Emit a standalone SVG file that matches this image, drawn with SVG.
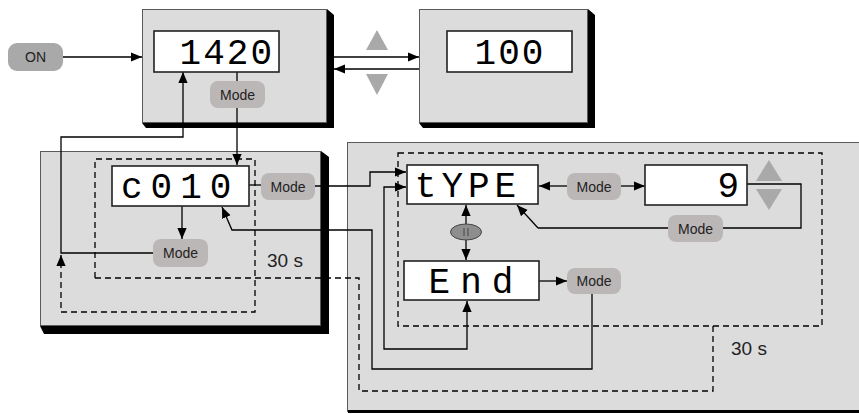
<svg xmlns="http://www.w3.org/2000/svg" width="859" height="414" viewBox="0 0 859 414">
<style>
.panel{fill:#dcdcdc;stroke:#5a5a5a;stroke-width:1}
.shadow{fill:#000}
.disp{fill:#fff;stroke:#222;stroke-width:1.6}
.seg{font-family:"Liberation Mono","Courier New",monospace;font-size:36px;fill:#000}
.pill{fill:#bcb7b7}
.pilltxt{font-family:"Liberation Sans",Arial,sans-serif;font-size:14px;fill:#222;text-anchor:middle}
.ln{fill:none;stroke:#000;stroke-width:1.3}
.dash{fill:none;stroke:#000;stroke-width:1.3;stroke-dasharray:6,4}
.tri{fill:#a9a9a9}
.lbl{font-family:"Liberation Sans",Arial,sans-serif;font-size:19px;fill:#222}
</style>
<defs>
<marker id="ah" viewBox="0 0 10 10" refX="10" refY="5" markerWidth="11" markerHeight="11" markerUnits="userSpaceOnUse" orient="auto-start-reverse">
<path d="M0,0.8 L10,5 L0,9.2 z" fill="#000"/>
</marker>
</defs>

<g id="panel-right-lower">
<rect class="panel" x="347.5" y="142.5" width="520" height="269"/>
<rect class="shadow" x="348" y="410" width="520" height="3"/>
</g>
<g id="panel-left-lower">
<polygon class="shadow" points="321,151 329,157 329,334 44,334 40,326 321,326"/>
<rect class="panel" x="40.5" y="151.5" width="280" height="174"/>
</g>
<g id="panel-1420">
<polygon class="shadow" points="327,9 334,15 334,128 146,128 142,123 327,123"/>
<rect class="panel" x="142.5" y="9.5" width="184" height="113"/>
</g>
<g id="panel-100">
<polygon class="shadow" points="588,9 595,15 595,128 423,128 419,123 588,123"/>
<rect class="panel" x="419.5" y="9.5" width="168" height="113"/>
</g>

<g id="connectors">
<path class="ln" d="M63,57 H142" marker-end="url(#ah)"/>
<path class="ln" d="M237,72 V81"/>
<path class="ln" d="M237,108 V165" marker-end="url(#ah)"/>
<path class="ln" d="M153,253 H61 V137 H183 V72" marker-end="url(#ah)"/>
<path class="ln" d="M182,206 V239" marker-end="url(#ah)"/>
<path class="ln" d="M334,57 H419" marker-end="url(#ah)"/>
<path class="ln" d="M419,69 H334" marker-end="url(#ah)"/>
<path class="ln" d="M249,185 H261"/>
<path class="ln" d="M315,186 H370 V172 H406" marker-end="url(#ah)"/>
<path class="ln" d="M592,294 V369 H372 V230 H232 L222,207" marker-end="url(#ah)"/>
<path class="ln" d="M567,186 H539" marker-end="url(#ah)"/>
<path class="ln" d="M621,186 H645" marker-end="url(#ah)"/>
<path class="ln" d="M747,184 H801 V228 H723 M668,228 H538"/>
<path class="ln" d="M538,228 L517,205" marker-end="url(#ah)"/>
<path class="ln" d="M466,205 V260" marker-start="url(#ah)" marker-end="url(#ah)"/>
<path class="ln" d="M539,281 H567" marker-end="url(#ah)"/>
<path class="ln" d="M406,187 H384 V349 H467 V301" marker-start="url(#ah)" marker-end="url(#ah)"/>
<path class="dash" d="M95,278 V159 H255 V312 H61 V264"/>
<path class="ln" d="M61,266 V255" marker-end="url(#ah)"/>
<path class="dash" d="M95,278 H359 V391 H713 V326"/>
<rect class="dash" x="398" y="153" width="424" height="173"/>
</g>

<g id="on">
<rect x="8" y="43" width="55" height="28" rx="9" fill="#a9a9a9"/>
<text class="pilltxt" x="35.5" y="62">ON</text>
</g>

<g id="disp-1420">
<rect class="disp" x="154" y="31" width="125" height="41"/>
<text class="seg" x="274" y="64" text-anchor="end" letter-spacing="2">1420</text>
</g>
<g id="mode-1">
<rect class="pill" x="210" y="81" width="55" height="27" rx="8"/>
<text class="pilltxt" x="237.5" y="100">Mode</text>
</g>
<g id="updown-1">
<polygon class="tri" points="377,30 388,50 366,50"/>
<polygon class="tri" points="366,74 388,74 377,95"/>
</g>
<g id="disp-100">
<rect class="disp" x="447" y="31" width="125" height="41"/>
<text class="seg" x="510" y="64" text-anchor="middle" letter-spacing="2">100</text>
</g>

<g id="disp-c010">
<rect class="disp" x="112" y="166" width="137" height="40"/>
<text class="seg" x="121" y="198" letter-spacing="8">c010</text>
</g>
<g id="mode-c010-right">
<rect class="pill" x="261" y="173" width="54" height="27" rx="8"/>
<text class="pilltxt" x="288" y="192">Mode</text>
</g>
<g id="mode-c010-below">
<rect class="pill" x="153" y="239" width="55" height="28" rx="8"/>
<text class="pilltxt" x="180.5" y="258">Mode</text>
</g>
<text class="lbl" x="267" y="267">30 s</text>

<g id="disp-type">
<rect class="disp" x="407" y="165" width="131" height="39"/>
<text class="seg" x="468" y="197" text-anchor="middle" letter-spacing="5">tYPE</text>
</g>
<g id="mode-type">
<rect class="pill" x="567" y="173" width="54" height="27" rx="8"/>
<text class="pilltxt" x="594" y="192">Mode</text>
</g>
<g id="disp-9">
<rect class="disp" x="645" y="165" width="102" height="40"/>
<text class="seg" x="739" y="197" text-anchor="end">9</text>
</g>
<g id="updown-2">
<polygon class="tri" points="769,160 782,181 756,181"/>
<polygon class="tri" points="756,189 782,189 769,210"/>
</g>
<g id="mode-9">
<rect class="pill" x="668" y="215" width="55" height="27" rx="8"/>
<text class="pilltxt" x="695.5" y="234">Mode</text>
</g>
<g id="scroll">
<ellipse cx="466" cy="232" rx="15.5" ry="8" fill="#8e8e8e" stroke="#444" stroke-width="1"/>
<path d="M464,228 V236 M468,228 V236" stroke="#333" stroke-width="0.8"/>
</g>
<g id="disp-end">
<rect class="disp" x="404" y="261" width="135" height="39"/>
<text class="seg" x="476" y="293" text-anchor="middle" letter-spacing="10">End</text>
</g>
<g id="mode-end">
<rect class="pill" x="567" y="268" width="54" height="26" rx="8"/>
<text class="pilltxt" x="594" y="286">Mode</text>
</g>
<text class="lbl" x="731" y="355">30 s</text>
</svg>
